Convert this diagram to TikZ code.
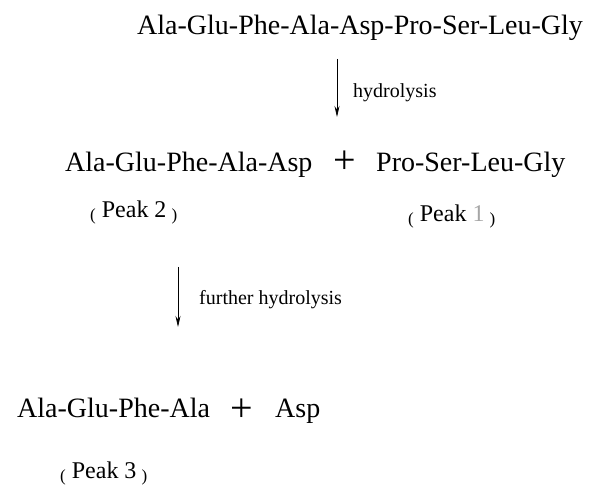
\documentclass[tikz,border=0pt]{standalone}
\usepackage{fontspec}
\setmainfont{Liberation Serif}
\usetikzlibrary{arrows.meta}
\newcommand{\bigtxt}{\fontsize{28}{32}\selectfont}
\newcommand{\plustxt}{\fontsize{40}{44}\selectfont}
\newcommand{\peaktxt}{\fontsize{24}{27}\selectfont}
\newcommand{\labtxt}{\fontsize{20}{24}\selectfont}
\newcommand{\sparen}[1]{\raisebox{-2.5pt}{\fontsize{17}{18}\selectfont #1}}
\tikzset{
  chain/.style={inner sep=0pt, anchor=base west, font=\bigtxt},
  plus/.style={inner sep=0pt, anchor=center, font=\plustxt},
  peak/.style={inner sep=0pt, anchor=base west, font=\peaktxt},
  lab/.style={inner sep=0pt, anchor=base west, font=\labtxt},
  rxn/.style={line width=0.8pt, -{Stealth[length=11pt,width=5pt]}}
}
\begin{document}
\begin{tikzpicture}[x=1pt,y=1pt]
\useasboundingbox (0,0) rectangle (590,487);
% top chain
\node[chain] (full) at (137,452) {Ala-Glu-Phe-Ala-Asp-Pro-Ser-Leu-Gly};
% first hydrolysis
\coordinate (a1s) at (337,428);
\coordinate (a1e) at (337,370);
\draw[rxn] (a1s) -- (a1e);
\node[lab] (l1) at (353,389) {hydrolysis};
% second line
\node[chain] (p2) at (65,315) {Ala-Glu-Phe-Ala-Asp};
\node[plus] (plus1) at (345,325) {+};
\node[chain] (p1) at (376,315) {Pro-Ser-Leu-Gly};
\node[peak] (pk2) at (90,269) {\sparen{(}\hspace{6pt}Peak 2\hspace{5pt}\sparen{)}};
\node[peak] (pk1) at (408,265) {\sparen{(}\hspace{6pt}Peak {\color{black!35}1}\hspace{5pt}\sparen{)}};
% further hydrolysis
\coordinate (a2s) at (178,220);
\coordinate (a2e) at (178,160);
\draw[rxn] (a2s) -- (a2e);
\node[lab] (l2) at (199,182) {further hydrolysis};
% third line
\node[chain] (p3) at (17,69) {Ala-Glu-Phe-Ala};
\node[plus] (plus2) at (242,77) {+};
\node[chain] (asp) at (275,69) {Asp};
\node[peak] (pk3) at (60,8) {\sparen{(}\hspace{6pt}Peak 3\hspace{5pt}\sparen{)}};
\end{tikzpicture}
\end{document}
